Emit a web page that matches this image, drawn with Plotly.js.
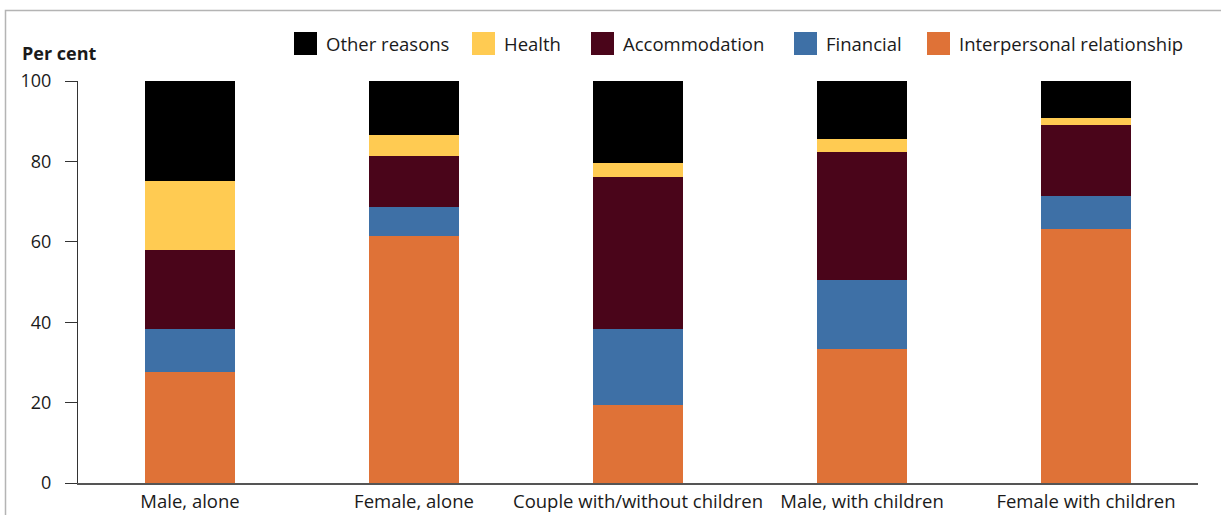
<!DOCTYPE html>
<html><head><meta charset="utf-8">
<script src="https://cdn.plot.ly/plotly-3.0.1.min.js"></script>
<style>html,body{margin:0;padding:0;background:#fff;} #chart{width:1221px;height:515px;}</style>
</head><body><div id="chart"></div>
<script>
// ---- data ----
const categories = ["Male, alone", "Female, alone", "Couple with/without children", "Male, with children", "Female with children"];
const interpersonal = [27.5, 61.5, 19.3, 33.4, 63.2];
const financial     = [10.9, 7.2, 19.1, 17.2, 8.2];
const accommodation = [19.6, 12.7, 37.7, 31.8, 17.7];
const health        = [17.2, 5.2, 3.5, 3.2, 1.7];
const otherReasons  = [24.8, 13.4, 20.9, 14.6, 9.2];
const yTickValues = [0, 20, 40, 60, 80, 100];
const seriesNames = ["Interpersonal relationship", "Financial", "Accommodation", "Health", "Other reasons"];
const yAxisLabel = "Per cent";

// ---- styling ----
const seriesValues = [interpersonal, financial, accommodation, health, otherReasons];
const seriesColors = ["#DF7237", "#3E70A6", "#4A051A", "#FFCB52", "#000000"];
const FONT = "Open Sans, Noto Sans, sans-serif";
const W = 1221, H = 515, ML = 78, MR = 23, MT = 81, MB = 32;
const PW = W - ML - MR, PH = H - MT - MB;
const px2x = px => (px - ML) / PW;
const py2y = py => (H - MB - py) / PH;

const traces = seriesNames.map((name, i) => ({
  type: "bar", name: name, x: categories, y: seriesValues[i],
  marker: {color: seriesColors[i], line: {width: 0}},
  showlegend: false, cliponaxis: false, hoverinfo: "x+y+name"
}));

// manual legend (order as in reference: top of stack first)
const legendOrder = [4, 3, 2, 1, 0];
const legendSwatchLeft = [294, 472, 591, 794, 927];
const shapes = [];
const annotations = [];
legendOrder.forEach((si, k) => {
  const x0 = legendSwatchLeft[k];
  shapes.push({type: "rect", xref: "paper", yref: "paper",
    x0: px2x(x0), x1: px2x(x0 + 23), y0: py2y(55), y1: py2y(32),
    fillcolor: seriesColors[si], line: {width: 0}});
  annotations.push({xref: "paper", yref: "paper", x: px2x(x0 + 30), y: py2y(44),
    xanchor: "left", yanchor: "middle", showarrow: false, text: seriesNames[si],
    font: {family: FONT, size: 18.5, color: "#1a1a1a"}});
});
annotations.push({xref: "paper", yref: "paper", x: px2x(20), y: py2y(53),
  xanchor: "left", yanchor: "middle", showarrow: false, text: "<b>" + yAxisLabel + "</b>",
  font: {family: FONT, size: 18, color: "#1a1a1a"}});
// outer frame
shapes.push({type: "rect", xref: "paper", yref: "paper", layer: "below",
  x0: px2x(5.5), x1: px2x(1240), y0: py2y(540), y1: py2y(10.5),
  line: {color: "#b4b4b4", width: 1.5}, fillcolor: "rgba(0,0,0,0)"});

const layout = {
  width: W, height: H,
  margin: {l: ML, r: MR, t: MT, b: MB, pad: 0},
  barmode: "stack", bargap: 0.594,
  paper_bgcolor: "#ffffff", plot_bgcolor: "#ffffff",
  showlegend: false,
  font: {family: FONT, size: 18, color: "#1a1a1a"},
  xaxis: {showline: true, linecolor: "#555555", linewidth: 1.5, ticks: "", showgrid: false,
    zeroline: false, tickfont: {family: FONT, size: 18.5, color: "#1a1a1a"}, ticklabelstandoff: 1,
    fixedrange: true},
  yaxis: {range: [0, 100], tickvals: yTickValues, ticks: "outside", ticklen: 12, tickwidth: 1,
    tickcolor: "#333333", showline: true, linecolor: "#333333", linewidth: 1, showgrid: false,
    zeroline: false, tickfont: {family: FONT, size: 18, color: "#1a1a1a"}, ticklabelstandoff: 10,
    fixedrange: true},
  shapes: shapes, annotations: annotations
};
Plotly.newPlot("chart", traces, layout, {displayModeBar: false, staticPlot: true});
</script></body></html>
